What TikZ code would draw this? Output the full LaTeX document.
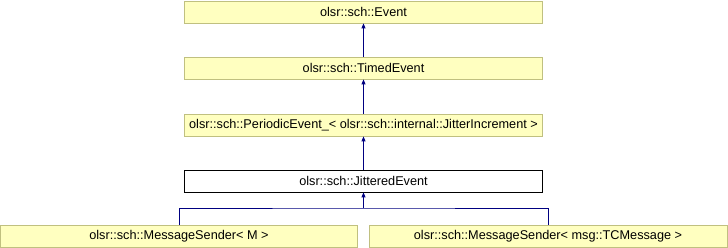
\documentclass[tikz,border=0pt]{standalone}
\usepackage{fontspec}
\setmainfont{Liberation Sans}
\usetikzlibrary{arrows.meta}
\definecolor{boxfill}{HTML}{FFFFC0}
\definecolor{boxline}{HTML}{C0C080}
\definecolor{edge}{HTML}{000080}
\begin{document}
\begin{tikzpicture}[x=1pt,y=-1pt,
  cls/.style={draw=boxline,fill=boxfill,line width=0.8pt,minimum height=22pt,inner sep=0pt,font=\fontsize{12.7}{14}\selectfont},
  cur/.style={cls,draw=black,fill=white},
  inh/.style={draw=edge,line width=0.8pt,-{Triangle[length=5pt,width=4pt]}}]
\useasboundingbox[fill=white] (0,0) rectangle (728,248);
\node[cls,minimum width=358pt] (ev) at (363.5,12) {olsr::sch::Event};
\node[cls,minimum width=358pt] (te) at (363.5,68) {olsr::sch::TimedEvent};
\node[cls,minimum width=358pt] (pe) at (363.5,125) {olsr::sch::PeriodicEvent\_< olsr::sch::internal::JitterIncrement >};
\node[cur,minimum width=358pt] (je) at (363.5,181) {olsr::sch::JitteredEvent};
\node[cls,minimum width=357pt] (ms) at (179,236.5) {olsr::sch::MessageSender< M >};
\node[cls,minimum width=358pt] (tc) at (548,236.5) {olsr::sch::MessageSender< msg::TCMessage >};
\draw[inh] (te) -- (ev);
\draw[inh] (pe) -- (te);
\draw[inh] (je) -- (pe);
\coordinate (j) at (363.5,208);
\draw[draw=edge,line width=0.8pt] (ms.north) |- (j) -| (tc.north);
\draw[inh] (j) -- (je);
\end{tikzpicture}
\end{document}
